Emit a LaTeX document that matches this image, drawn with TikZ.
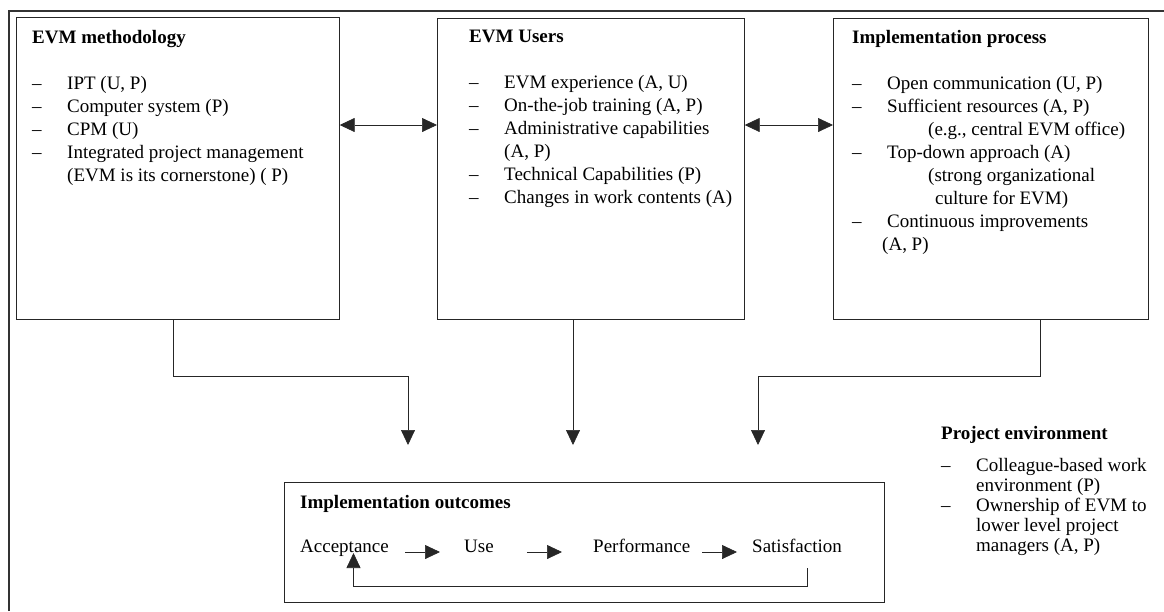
\documentclass[tikz,border=0pt]{standalone}
\usepackage{fontspec}
\setmainfont{Liberation Serif}
\usetikzlibrary{positioning,arrows.meta}

\newcommand{\dashitem}{\makebox[35pt][l]{--}}

\tikzset{
	panel/.style={draw=black!85, line width=0.7pt, anchor=north west, inner sep=0pt},
	listtext/.style={anchor=north west, inner sep=0pt, align=left, font=\fontsize{19}{23}\selectfont},
	word/.style={anchor=base west, inner sep=0pt, font=\fontsize{19}{23}\selectfont},
	flow/.style={-{Triangle[length=15pt,width=14pt]}, line width=0.7pt, draw=black!85},
	twoway/.style={{Triangle[length=15pt,width=14pt]}-{Triangle[length=15pt,width=14pt]}, line width=0.7pt, draw=black!85}
}

\begin{document}
\begin{tikzpicture}[x=1pt,y=-1pt]
	\useasboundingbox (0,0) rectangle (1164,611);
	% outer frame
	\draw [black!80, line width=1.8pt] (9,611) -- (9,11) -- (1164,11);

	% three upper panels
	\node [panel, minimum width=323pt, minimum height=302pt] (meth) at (16,17) {};
	\node [panel, minimum width=307pt, minimum height=301pt] (users) at (437,18) {};
	\node [panel, minimum width=315pt, minimum height=301pt] (proc) at (833,18) {};

	\node [listtext] (methtext) at (32,30) {\textbf{EVM methodology}\\[23pt]
		\dashitem IPT (U, P)\\
		\dashitem Computer system (P)\\
		\dashitem CPM (U)\\
		\dashitem Integrated project management\\
		\hspace*{35pt}(EVM is its cornerstone) ( P)};
	\node [listtext] (userstext) at (469,30) {\textbf{EVM Users}\\[23pt]
		\dashitem EVM experience (A, U)\\
		\dashitem On-the-job training (A, P)\\
		\dashitem Administrative capabilities\\
		\hspace*{35pt}(A, P)\\
		\dashitem Technical Capabilities (P)\\
		\dashitem Changes in work contents (A)};
	\node [listtext] (proctext) at (852,30) {\textbf{Implementation process}\\[23pt]
		\dashitem Open communication (U, P)\\
		\dashitem Sufficient resources (A, P)\\
		\hspace*{76pt}(e.g., central EVM office)\\
		\dashitem Top-down approach (A)\\
		\hspace*{76pt}(strong organizational\\
		\hspace*{83pt}culture for EVM)\\
		\dashitem Continuous improvements\\
		\hspace*{30pt}(A, P)};

	% project environment
	\node [listtext, font=\fontsize{19}{20}\selectfont] (envtext) at (941,426) {\textbf{Project environment}\\[12pt]
		\dashitem Colleague-based work\\
		\hspace*{35pt}environment (P)\\
		\dashitem Ownership of EVM to\\
		\hspace*{35pt}lower level project\\
		\hspace*{35pt}managers (A, P)};

	% outcomes panel
	\node [panel, minimum width=600pt, minimum height=120pt] (outc) at (284,482) {};
	\node [listtext] (outctitle) at (300,495) {\textbf{Implementation outcomes}};
	\node [word] (acc) at (300,552) {Acceptance};
	\node [word] (use) at (464,552) {Use};
	\node [word] (perf) at (593,552) {Performance};
	\node [word] (sat) at (752,552) {Satisfaction};

	% arrows between panels
	\coordinate (row) at (0,125);
	\draw [twoway] (meth.east |- row) -- (users.west |- row);
	\draw [twoway] (users.east |- row) -- (proc.west |- row);

	\coordinate (tipL) at (408,445);
	\coordinate (tipM) at (573,445);
	\coordinate (tipR) at (758,445);
	\draw [flow] ([xshift=157pt]meth.south west) -- ++(0,57) -| (tipL);
	\draw [flow] (tipM |- users.south) -- (tipM);
	\draw [flow] ([xshift=207pt]proc.south west) -- ++(0,57) -| (tipR);

	% outcome chain
	\draw [flow] ([xshift=16pt]acc.base east) -- ([xshift=-24pt]use.base west);
	\draw [flow] ([xshift=33pt]use.base east) -- ([xshift=-31pt]perf.base west);
	\draw [flow] ([xshift=12pt]perf.base east) -- ([xshift=-15pt]sat.base west);
	\draw [flow] ([xshift=10pt,yshift=-16pt]sat.base) -- ++(0,18) -| ([xshift=9pt,yshift=-1pt]acc.base);
\end{tikzpicture}
\end{document}
